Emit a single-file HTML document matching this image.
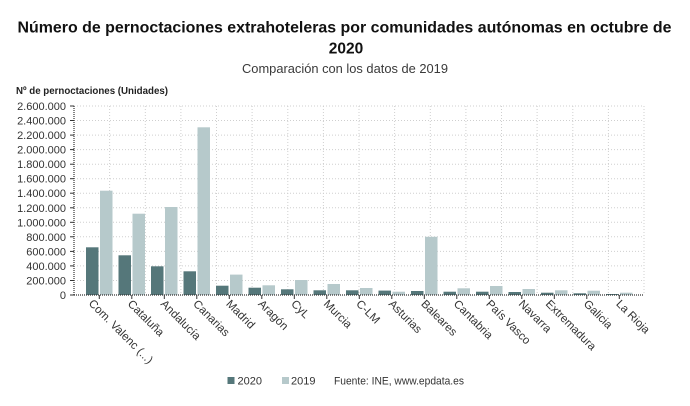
<!DOCTYPE html>
<html>
<head>
<meta charset="utf-8">
<style>
  html, body { margin: 0; padding: 0; background: #ffffff; }
  svg { display: block; }
  text { font-family: "Liberation Sans", "DejaVu Sans", sans-serif; }
</style>
</head>
<body>
<svg width="690" height="406" viewBox="0 0 690 406" xmlns="http://www.w3.org/2000/svg">
  <rect x="0" y="0" width="690" height="406" fill="#ffffff"/>

  <!-- Titles -->
  <text x="17.5" y="32.7" font-size="15.5" font-weight="bold" fill="#111" textLength="654" lengthAdjust="spacingAndGlyphs">Número de pernoctaciones extrahoteleras por comunidades autónomas en octubre de</text>
  <text x="346" y="53.3" font-size="15.5" font-weight="bold" fill="#111" text-anchor="middle">2020</text>
  <text x="242" y="73" font-size="12.5" fill="#3a3a3a" textLength="206" lengthAdjust="spacingAndGlyphs">Comparación con los datos de 2019</text>

  <!-- Y axis title -->
  <text x="16" y="94" font-size="10" font-weight="bold" fill="#222" textLength="152" lengthAdjust="spacingAndGlyphs">Nº de pernoctaciones (Unidades)</text>

  <!-- Horizontal gridlines -->
  <g stroke="#cfcfcf" stroke-width="1" stroke-dasharray="1,2">
    <line x1="74" y1="280.5" x2="644" y2="280.5"/>
    <line x1="74" y1="265.9" x2="644" y2="265.9"/>
    <line x1="74" y1="251.4" x2="644" y2="251.4"/>
    <line x1="74" y1="236.8" x2="644" y2="236.8"/>
    <line x1="74" y1="222.3" x2="644" y2="222.3"/>
    <line x1="74" y1="207.8" x2="644" y2="207.8"/>
    <line x1="74" y1="193.2" x2="644" y2="193.2"/>
    <line x1="74" y1="178.7" x2="644" y2="178.7"/>
    <line x1="74" y1="164.2" x2="644" y2="164.2"/>
    <line x1="74" y1="149.6" x2="644" y2="149.6"/>
    <line x1="74" y1="135.1" x2="644" y2="135.1"/>
    <line x1="74" y1="120.5" x2="644" y2="120.5"/>
    <line x1="74" y1="106" x2="644" y2="106"/>
  </g>
  <!-- Vertical gridlines -->
  <g stroke="#cfcfcf" stroke-width="1" stroke-dasharray="1,2">
    <line x1="109.6" y1="106" x2="109.6" y2="295"/>
    <line x1="145.3" y1="106" x2="145.3" y2="295"/>
    <line x1="180.9" y1="106" x2="180.9" y2="295"/>
    <line x1="216.5" y1="106" x2="216.5" y2="295"/>
    <line x1="252.1" y1="106" x2="252.1" y2="295"/>
    <line x1="287.8" y1="106" x2="287.8" y2="295"/>
    <line x1="323.4" y1="106" x2="323.4" y2="295"/>
    <line x1="359" y1="106" x2="359" y2="295"/>
    <line x1="394.6" y1="106" x2="394.6" y2="295"/>
    <line x1="430.3" y1="106" x2="430.3" y2="295"/>
    <line x1="465.9" y1="106" x2="465.9" y2="295"/>
    <line x1="501.5" y1="106" x2="501.5" y2="295"/>
    <line x1="537.1" y1="106" x2="537.1" y2="295"/>
    <line x1="572.8" y1="106" x2="572.8" y2="295"/>
    <line x1="608.4" y1="106" x2="608.4" y2="295"/>
    <line x1="644" y1="106" x2="644" y2="295"/>
  </g>

  <!-- Y tick labels -->
  <g font-size="11" fill="#333" text-anchor="end">
    <text x="66" y="299">0</text>
    <text x="66" y="284.5">200.000</text>
    <text x="66" y="269.9">400.000</text>
    <text x="66" y="255.4">600.000</text>
    <text x="66" y="240.8">800.000</text>
    <text x="66" y="226.3">1.000.000</text>
    <text x="66" y="211.8">1.200.000</text>
    <text x="66" y="197.2">1.400.000</text>
    <text x="66" y="182.7">1.600.000</text>
    <text x="66" y="168.2">1.800.000</text>
    <text x="66" y="153.6">2.000.000</text>
    <text x="66" y="139.1">2.200.000</text>
    <text x="66" y="124.5">2.400.000</text>
    <text x="66" y="110">2.600.000</text>
  </g>

  <!-- Bars 2020 (dark) -->
  <g fill="#55777a">
    <rect x="86.0" y="247.3" width="12.5" height="47.7"/>
    <rect x="118.5" y="255.3" width="12.5" height="39.7"/>
    <rect x="151.0" y="266.3" width="12.5" height="28.7"/>
    <rect x="183.5" y="271.3" width="12.5" height="23.7"/>
    <rect x="216.0" y="285.7" width="12.5" height="9.3"/>
    <rect x="248.5" y="287.7" width="12.5" height="7.3"/>
    <rect x="281.0" y="289.3" width="12.5" height="5.7"/>
    <rect x="313.5" y="290.3" width="12.5" height="4.7"/>
    <rect x="346.0" y="290.3" width="12.5" height="4.7"/>
    <rect x="378.5" y="290.6" width="12.5" height="4.4"/>
    <rect x="411.0" y="291.0" width="12.5" height="4.0"/>
    <rect x="443.5" y="291.7" width="12.5" height="3.3"/>
    <rect x="476.0" y="291.7" width="12.5" height="3.3"/>
    <rect x="508.5" y="292.0" width="12.5" height="3.0"/>
    <rect x="541.0" y="292.7" width="12.5" height="2.3"/>
    <rect x="573.5" y="293.3" width="12.5" height="1.7"/>
    <rect x="606.0" y="294.0" width="12.5" height="1.0"/>
  </g>
  <!-- Bars 2019 (light) -->
  <g fill="#b6c9cb">
    <rect x="100.0" y="190.7" width="12.5" height="104.3"/>
    <rect x="132.5" y="213.7" width="12.5" height="81.3"/>
    <rect x="165.0" y="207.0" width="12.5" height="88.0"/>
    <rect x="197.5" y="127.3" width="12.5" height="167.7"/>
    <rect x="230.0" y="274.6" width="12.5" height="20.4"/>
    <rect x="262.5" y="285.3" width="12.5" height="9.7"/>
    <rect x="295.0" y="280.0" width="12.5" height="15.0"/>
    <rect x="327.5" y="284.0" width="12.5" height="11.0"/>
    <rect x="360.0" y="288.0" width="12.5" height="7.0"/>
    <rect x="392.5" y="291.7" width="12.5" height="3.3"/>
    <rect x="425.0" y="236.8" width="12.5" height="58.2"/>
    <rect x="457.5" y="288.3" width="12.5" height="6.7"/>
    <rect x="490.0" y="286.0" width="12.5" height="9.0"/>
    <rect x="522.5" y="289.0" width="12.5" height="6.0"/>
    <rect x="555.0" y="290.3" width="12.5" height="4.7"/>
    <rect x="587.5" y="290.7" width="12.5" height="4.3"/>
    <rect x="620.0" y="292.7" width="12.5" height="2.3"/>
  </g>

  <!-- Axes -->
  <line x1="74" y1="106" x2="74" y2="295" stroke="#333" stroke-width="1.2" stroke-dasharray="1,1"/>
  <line x1="74" y1="295" x2="644" y2="295" stroke="#333" stroke-width="1.2" stroke-dasharray="1,1"/>
  <g stroke="#333" stroke-width="1">
    <line x1="70" y1="106" x2="74" y2="106"/>
    <line x1="70" y1="120.5" x2="74" y2="120.5"/>
    <line x1="70" y1="135.1" x2="74" y2="135.1"/>
    <line x1="70" y1="149.6" x2="74" y2="149.6"/>
    <line x1="70" y1="164.2" x2="74" y2="164.2"/>
    <line x1="70" y1="178.7" x2="74" y2="178.7"/>
    <line x1="70" y1="193.2" x2="74" y2="193.2"/>
    <line x1="70" y1="207.8" x2="74" y2="207.8"/>
    <line x1="70" y1="222.3" x2="74" y2="222.3"/>
    <line x1="70" y1="236.8" x2="74" y2="236.8"/>
    <line x1="70" y1="251.4" x2="74" y2="251.4"/>
    <line x1="70" y1="265.9" x2="74" y2="265.9"/>
    <line x1="70" y1="280.5" x2="74" y2="280.5"/>
    <line x1="70" y1="295" x2="74" y2="295"/>
  </g>
  <!-- X ticks -->
  <g stroke="#333" stroke-width="1">
    <line x1="99.3" y1="295" x2="99.3" y2="299"/>
    <line x1="131.8" y1="295" x2="131.8" y2="299"/>
    <line x1="164.3" y1="295" x2="164.3" y2="299"/>
    <line x1="196.8" y1="295" x2="196.8" y2="299"/>
    <line x1="229.3" y1="295" x2="229.3" y2="299"/>
    <line x1="261.8" y1="295" x2="261.8" y2="299"/>
    <line x1="294.3" y1="295" x2="294.3" y2="299"/>
    <line x1="326.8" y1="295" x2="326.8" y2="299"/>
    <line x1="359.3" y1="295" x2="359.3" y2="299"/>
    <line x1="391.8" y1="295" x2="391.8" y2="299"/>
    <line x1="424.3" y1="295" x2="424.3" y2="299"/>
    <line x1="456.8" y1="295" x2="456.8" y2="299"/>
    <line x1="489.3" y1="295" x2="489.3" y2="299"/>
    <line x1="521.8" y1="295" x2="521.8" y2="299"/>
    <line x1="554.3" y1="295" x2="554.3" y2="299"/>
    <line x1="586.8" y1="295" x2="586.8" y2="299"/>
    <line x1="619.3" y1="295" x2="619.3" y2="299"/>
  </g>

  <!-- X labels (rotated 45deg) -->
  <g font-size="11.5" fill="#333">
    <text transform="translate(88,304) rotate(45)">Com. Valenc (...)</text>
    <text transform="translate(127,304.5) rotate(45)">Cataluña</text>
    <text transform="translate(160,304.5) rotate(45)">Andalucía</text>
    <text transform="translate(192.5,304.5) rotate(45)">Canarias</text>
    <text transform="translate(225.5,304.5) rotate(45)">Madrid</text>
    <text transform="translate(257.5,304.5) rotate(45)">Aragón</text>
    <text transform="translate(290.5,304.5) rotate(45)">CyL</text>
    <text transform="translate(323,304.5) rotate(45)">Murcia</text>
    <text transform="translate(355.5,304.5) rotate(45)">C-LM</text>
    <text transform="translate(388,304.5) rotate(45)">Asturias</text>
    <text transform="translate(420.5,304.5) rotate(45)">Baleares</text>
    <text transform="translate(453,304.5) rotate(45)">Cantabria</text>
    <text transform="translate(485.5,304.5) rotate(45)">País Vasco</text>
    <text transform="translate(518,304.5) rotate(45)">Navarra</text>
    <text transform="translate(545,304.5) rotate(45)">Extremadura</text>
    <text transform="translate(583,304.5) rotate(45)">Galicia</text>
    <text transform="translate(615.5,304.5) rotate(45)">La Rioja</text>
  </g>

  <!-- Legend -->
  <rect x="227.5" y="377" width="7" height="7" fill="#55777a"/>
  <text x="237.5" y="384.5" font-size="11" fill="#333">2020</text>
  <rect x="282" y="377" width="7" height="7" fill="#b6c9cb"/>
  <text x="291" y="384.5" font-size="11" fill="#333">2019</text>
  <text x="334" y="384.5" font-size="11" fill="#333" textLength="130" lengthAdjust="spacingAndGlyphs">Fuente: INE, www.epdata.es</text>
</svg>
</body>
</html>
